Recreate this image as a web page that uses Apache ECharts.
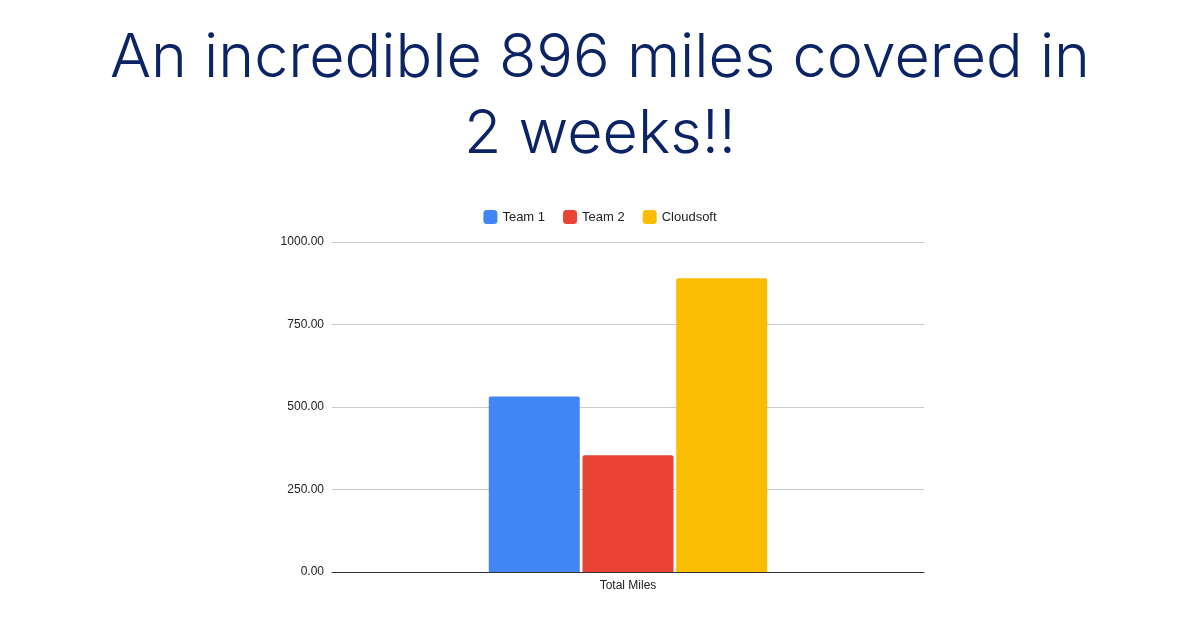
<!DOCTYPE html>
<html><head><meta charset="utf-8">
<script src="https://cdn.jsdelivr.net/npm/echarts@6/dist/echarts.min.js"></script>
<style>html,body{margin:0;padding:0;background:#fff}#c{width:1200px;height:630px}</style>
</head><body><div id="c"></div>
<script>
const categories = ["Total Miles"];
const seriesNames = ["Team 1", "Team 2", "Cloudsoft"];
const team1 = [532];
const team2 = [354];
const cloudsoft = [890];
const yTicks = [0, 250, 500, 750, 1000];
const colors = ["#4285f4", "#ea4335", "#fbbc04"];
const vals = [team1, team2, cloudsoft];
const chart = echarts.init(document.getElementById('c'));
chart.setOption({
  animation: false,
  title: {
    text: "An incredible 896 miles covered in\n2 weeks!!",
    left: 'center', top: 16,
    textStyle: {fontFamily: 'Inter', fontWeight: 300, fontSize: 61, color: '#0c2466', lineHeight: 76}
  },
  legend: {
    top: 205, left: 'center', itemWidth: 14, itemHeight: 14, itemGap: 18,
    icon: 'roundRect',
    textStyle: {fontFamily: 'Arial', fontSize: 13, color: '#222'},
    data: seriesNames
  },
  grid: {left: 332, right: 276, top: 242, bottom: 58},
  xAxis: {
    type: 'category', data: categories,
    axisLine: {lineStyle: {color: '#333'}}, axisTick: {show: false},
    axisLabel: {fontFamily: 'Arial', fontSize: 12, color: '#222', margin: 8}
  },
  yAxis: {
    type: 'value', min: yTicks[0], max: yTicks[yTicks.length-1], interval: 250,
    axisLine: {show: false}, axisTick: {show: false},
    splitLine: {lineStyle: {color: '#ccc'}},
    axisLabel: {fontFamily: 'Arial', fontSize: 12, color: '#222', formatter: v => v.toFixed(2), margin: 8}
  },
  series: seriesNames.map((n, i) => ({
    name: n, type: 'bar', data: vals[i], barWidth: 91, barGap: '3%',
    itemStyle: {color: colors[i], borderRadius: [2,2,0,0]}
  }))
});
</script></body></html>
